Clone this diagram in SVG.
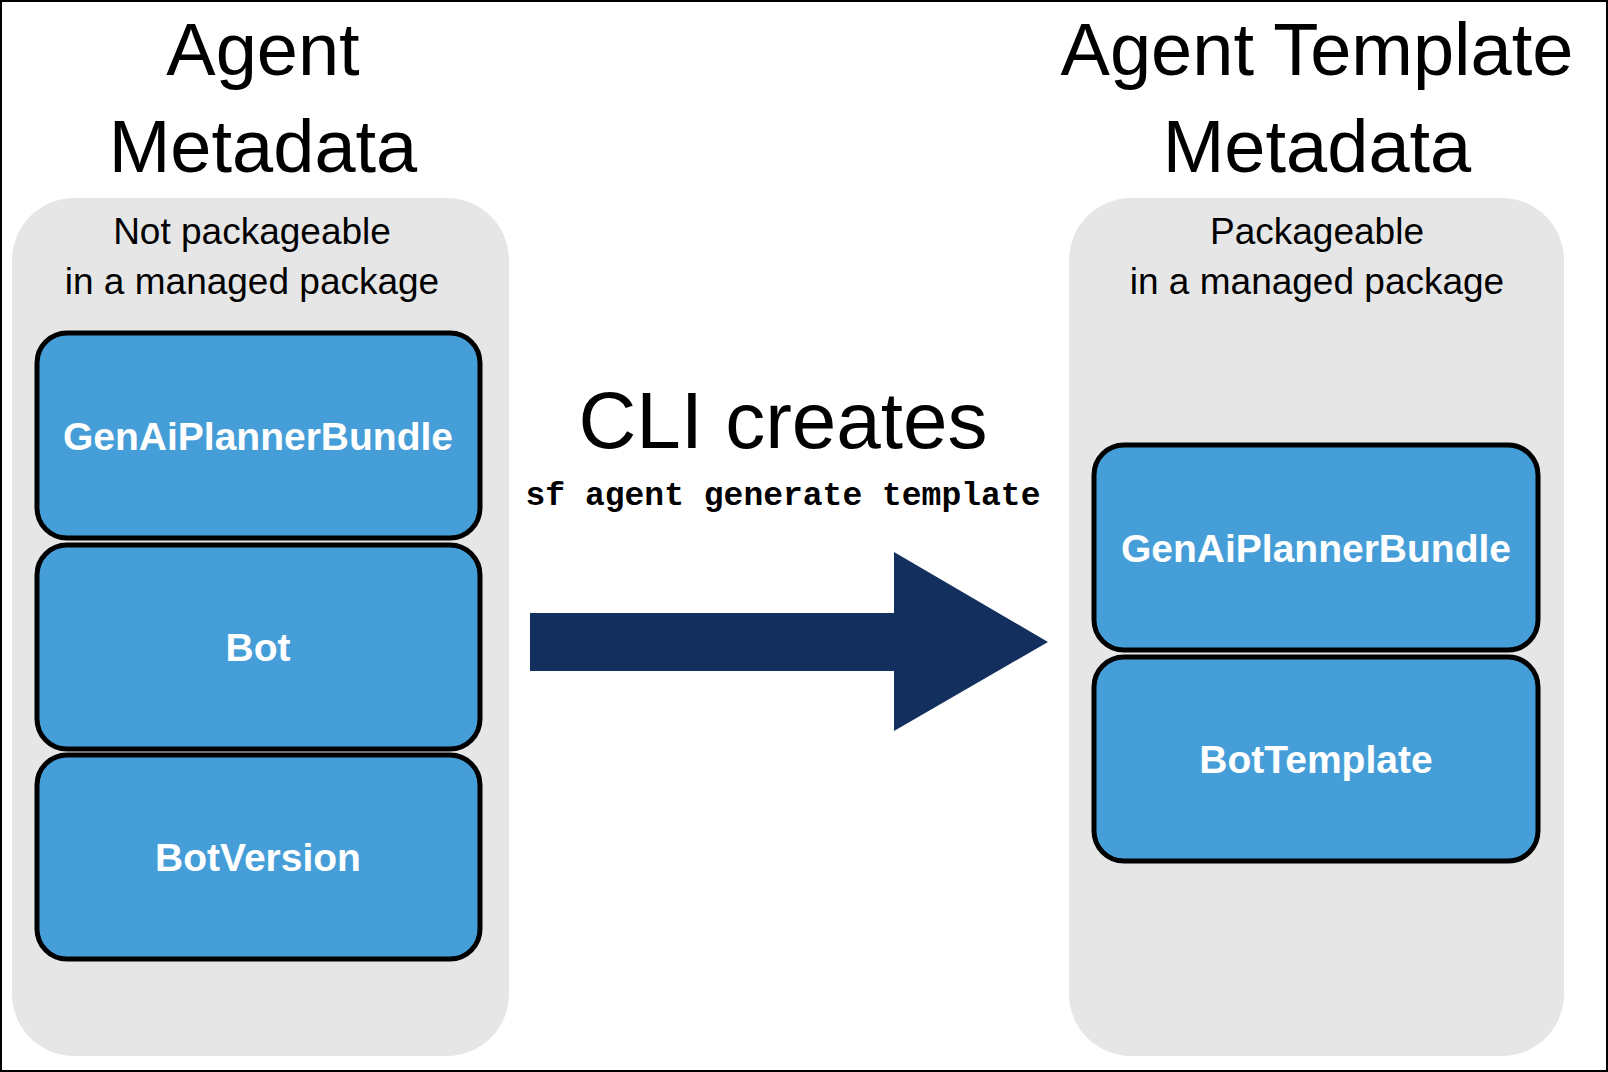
<svg xmlns="http://www.w3.org/2000/svg" width="1608" height="1072" viewBox="0 0 1608 1072">
<style>
.t{font-family:"Liberation Sans",Arial,sans-serif;text-anchor:middle;fill:#000}
.h{font-size:74px}
.s{font-size:37px}
.panel{fill:#e6e6e6}
.box{fill:#469ed8;stroke:#000;stroke-width:5}
.bl{font-family:"Liberation Sans",Arial,sans-serif;font-weight:bold;font-size:39px;fill:#fff;text-anchor:middle;dominant-baseline:central}
</style>
<rect x="1" y="1" width="1606" height="1070" fill="#fff" stroke="#000" stroke-width="2"/>
<g id="left-panel">
<rect class="panel" x="12" y="198" width="497" height="858" rx="62"/>
<text class="t h" x="263" y="75">Agent</text>
<text class="t h" x="263" y="172">Metadata</text>
<text class="t s" x="252" y="244">Not packageable</text>
<text class="t s" x="252" y="294">in a managed package</text>
</g>
<g id="right-panel">
<rect class="panel" x="1069" y="198" width="495" height="858" rx="62"/>
<text class="t h" x="1317" y="75">Agent Template</text>
<text class="t h" x="1317" y="172">Metadata</text>
<text class="t s" x="1317" y="244">Packageable</text>
<text class="t s" x="1317" y="294">in a managed package</text>
</g>
<g id="n1"><rect class="box" x="37" y="333" width="443" height="205" rx="30"/><text class="bl" x="258" y="436">GenAiPlannerBundle</text></g>
<g id="n2"><rect class="box" x="37" y="545" width="443" height="204" rx="30"/><text class="bl" x="258" y="647">Bot</text></g>
<g id="n3"><rect class="box" x="37" y="755" width="443" height="204" rx="30"/><text class="bl" x="258" y="857">BotVersion</text></g>
<g id="n4"><rect class="box" x="1094" y="445" width="444" height="205" rx="30"/><text class="bl" x="1316" y="548">GenAiPlannerBundle</text></g>
<g id="n5"><rect class="box" x="1094" y="657" width="444" height="204" rx="30"/><text class="bl" x="1316" y="759">BotTemplate</text></g>
<g id="connectors">
<polygon points="530,613 894,613 894,552 1048,642 894,731 894,671 530,671" fill="#132f5e"/>
<text class="t" x="783" y="448" font-size="80">CLI creates</text>
<text x="783" y="505" text-anchor="middle" font-family="Liberation Mono,Courier New,monospace" font-weight="bold" font-size="33">sf agent generate template</text>
</g>
</svg>
